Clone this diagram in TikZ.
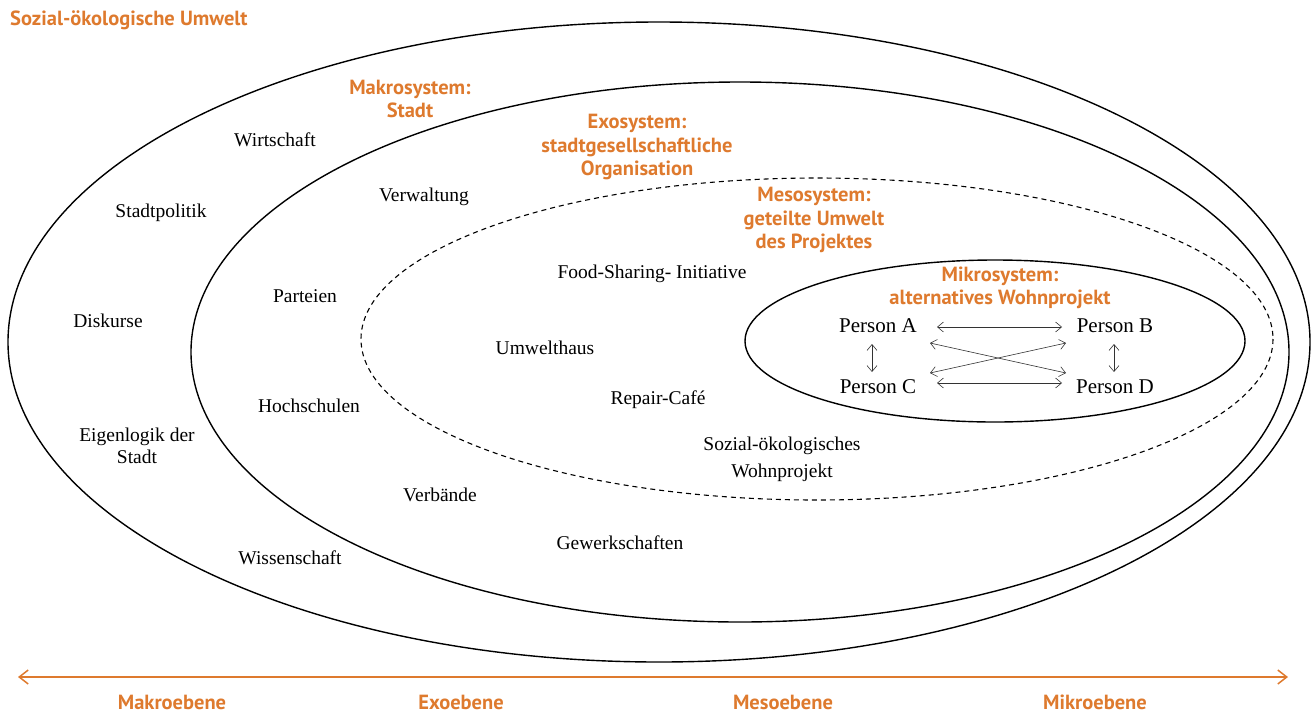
\documentclass[tikz,border=0pt]{standalone}
\usepackage{fontspec}
\setmainfont{Liberation Serif}
\newfontfamily\orfont{PT Sans}
\usetikzlibrary{arrows.meta}
\definecolor{orng}{RGB}{222,122,46}
\tikzset{
  ring/.style={draw=black,line width=1.4pt},
  lbl/.style={font=\fontsize{19.5}{22}\selectfont,align=center,inner sep=0pt},
  pers/.style={font=\fontsize{21}{24}\selectfont,inner sep=0pt},
  ttl/.style={font=\orfont\bfseries\fontsize{20.5}{23.5}\selectfont,text=orng,align=center,inner sep=0pt},
  rel/.style={draw=black!80,line width=0.6pt,{Straight Barb[length=6pt,width=10pt]}-{Straight Barb[length=6pt,width=10pt]}}
}
\begin{document}
\begin{tikzpicture}[x=1pt,y=-1pt]
\useasboundingbox (0,0) rectangle (1312,713);
% ellipses
\draw[ring] (659,342) ellipse [x radius=651,y radius=320];
\draw[ring] (740,352) ellipse [x radius=549,y radius=270];
\draw[ring,line width=1.1pt,dash pattern=on 5pt off 4pt] (817,339) ellipse [x radius=456,y radius=161];
\draw[ring] (995,341) ellipse [x radius=250,y radius=81];
% titles
\node[ttl,anchor=west] (tumw) at (10,20) {Sozial-ökologische Umwelt};
\node[ttl] (tmak) at (410,99) {Makrosystem:\\Stadt};
\node[ttl] (texo) at (637,147) {Exosystem:\\stadtgesellschaftliche\\Organisation};
\node[ttl] (tmes) at (814,220) {Mesosystem:\\geteilte Umwelt\\des Projektes};
\node[ttl] (tmik) at (1000,288) {Mikrosystem:\\alternatives Wohnprojekt};
% labels
\node[lbl] (wirt) at (275,140) {Wirtschaft};
\node[lbl] (spol) at (161,213) {Stadtpolitik};
\node[lbl] (disk) at (108,321) {Diskurse};
\node[lbl] (eigl) at (137,446) {Eigenlogik der\\Stadt};
\node[lbl] (wiss) at (290,558) {Wissenschaft};
\node[lbl] (verw) at (424,197) {Verwaltung};
\node[lbl] (part) at (305,296) {Parteien};
\node[lbl] (hoch) at (309,406) {Hochschulen};
\node[lbl] (verb) at (440,495) {Verbände};
\node[lbl] (gewe) at (620,543) {Gewerkschaften};
\node[lbl] (food) at (652,274) {Food-Sharing- Initiative};
\node[lbl] (umwh) at (545,348) {Umwelthaus};
\node[lbl] (repc) at (658,400) {Repair-Café};
\node[lbl,font=\fontsize{19.5}{27}\selectfont] (wohn) at (782,459) {Sozial-ökologisches\\Wohnprojekt};
% persons
\node[pers] (pa) at (878,326) {Person A};
\node[pers] (pb) at (1115,326) {Person B};
\node[pers] (pc) at (878,387) {Person C};
\node[pers] (pd) at (1115,387) {Person D};
\coordinate (ab1) at (937,327); \coordinate (ab2) at (1062,327);
\coordinate (cd1) at (937,383); \coordinate (cd2) at (1062,383);
\coordinate (ad1) at (930,343); \coordinate (ad2) at (1066,373);
\coordinate (cb1) at (930,373); \coordinate (cb2) at (1066,343);
\coordinate (ac1) at (872,344); \coordinate (ac2) at (872,372);
\coordinate (bd1) at (1114,344); \coordinate (bd2) at (1114,372);
\draw[rel] (ab1) -- (ab2);
\draw[rel] (cd1) -- (cd2);
\draw[rel] (ad1) -- (ad2);
\draw[rel] (cb1) -- (cb2);
\draw[rel] (ac1) -- (ac2);
\draw[rel] (bd1) -- (bd2);
% bottom axis
\coordinate (axl) at (18,677);
\coordinate (axr) at (1288,677);
\draw[orng,line width=1.5pt,{Straight Barb[length=9pt,width=14pt,line width=1.5pt]}-{Straight Barb[length=9pt,width=14pt,line width=1.5pt]}] (axl) -- (axr);
\node[ttl] (emak) at (172,702) {Makroebene};
\node[ttl] (eexo) at (461,702) {Exoebene};
\node[ttl] (emes) at (783,702) {Mesoebene};
\node[ttl] (emik) at (1095,702) {Mikroebene};
\end{tikzpicture}
\end{document}
